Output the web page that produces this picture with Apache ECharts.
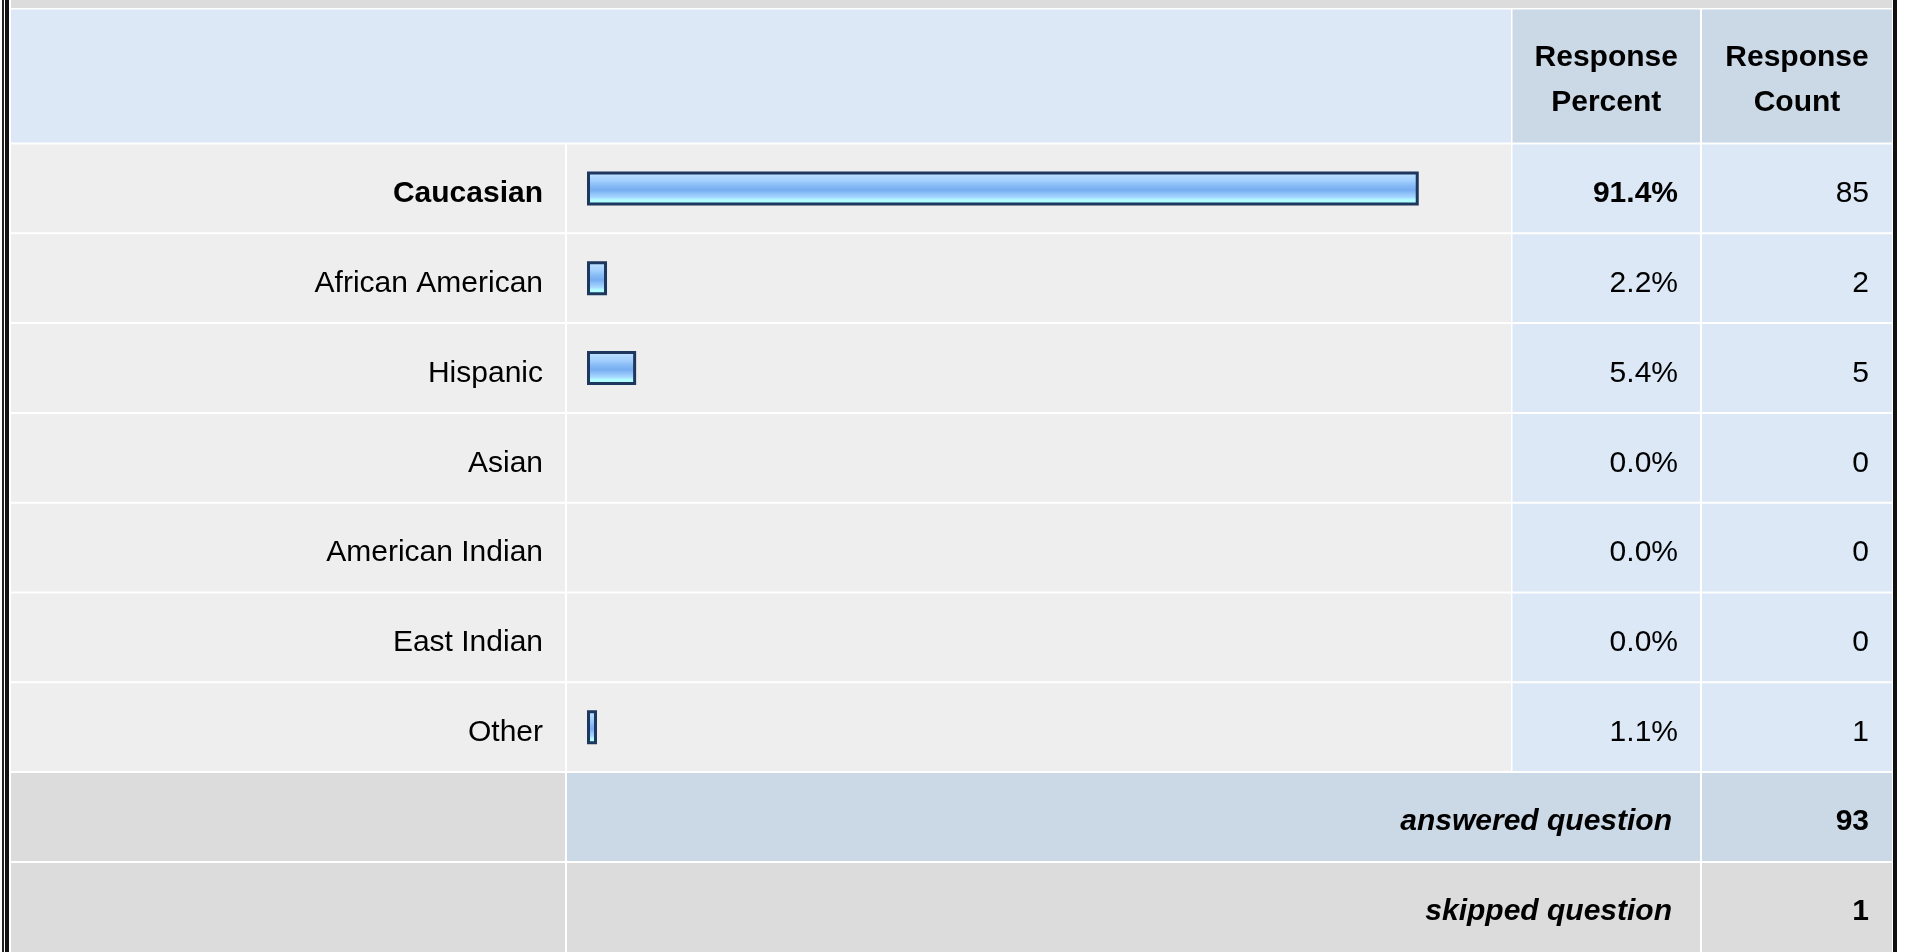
<!DOCTYPE html>
<html>
<head>
<meta charset="utf-8">
<script src="https://cdn.jsdelivr.net/npm/echarts@6/dist/echarts.min.js"></script>
<style>
  html, body { margin: 0; padding: 0; background: #fff; }
  #chart { width: 1907px; height: 952px; }
</style>
</head>
<body>
<div id="chart"></div>
<script>
// survey data
var categories = ['Caucasian', 'African American', 'Hispanic', 'Asian', 'American Indian', 'East Indian', 'Other'];
var percents = [91.4, 2.2, 5.4, 0.0, 0.0, 0.0, 1.1];
var counts = [85, 2, 5, 0, 0, 0, 1];
var headers = ['Response\nPercent', 'Response\nCount'];
var answered = 93;
var skipped = 1;

var font = 'Liberation Sans, Arial, sans-serif';

// table layout
var top0 = 143.5;
var rowH = 89.8;
var colLabel = [11, 565];
var colBar = [567, 1511];
var colPct = [1512.5, 1700];
var colCnt = [1702, 1892];
var gridLeft = 587;
var gridRight = 1497;

var chartDom = document.getElementById('chart');
var myChart = echarts.init(chartDom);

function rect(x0, x1, y0, y1, color) {
  return { type: 'rect', z: -10, silent: true, shape: { x: x0, y: y0, width: x1 - x0, height: y1 - y0 }, style: { fill: color } };
}
function txt(x, y, text, align, weight, style) {
  return {
    type: 'text', z: 10, silent: true, x: x, y: y,
    style: { text: text, fill: '#000', font: (style || 'normal') + ' ' + (weight || 'normal') + ' 30px ' + font, textAlign: align, textVerticalAlign: 'middle', lineHeight: 45 }
  };
}

var els = [];
// borders and top band
els.push(rect(2, 4, 0, 952, '#222'));
els.push(rect(5, 9, 0, 952, '#111'));
els.push(rect(1893, 1897, 0, 952, '#111'));
els.push(rect(11, 1892, 0, 8, '#dcdcdc'));
// header
els.push(rect(11, colBar[1], 9.5, 142.5, '#dce8f5'));
els.push(rect(colPct[0], colPct[1], 9.5, 142.5, '#cbd8e6'));
els.push(rect(colCnt[0], colCnt[1], 9.5, 142.5, '#cbd8e6'));
els.push(txt((colPct[0] + colPct[1]) / 2, 80, headers[0], 'center', 'bold'));
els.push(txt((colCnt[0] + colCnt[1]) / 2, 80, headers[1], 'center', 'bold'));
// data rows
categories.forEach(function (c, i) {
  var y0 = top0 + i * rowH + 1, y1 = top0 + (i + 1) * rowH - 1;
  els.push(rect(colLabel[0], colLabel[1], y0, y1, '#eeeeee'));
  els.push(rect(colBar[0], colBar[1], y0, y1, '#eeeeee'));
  els.push(rect(colPct[0], colPct[1], y0, y1, '#dce8f5'));
  els.push(rect(colCnt[0], colCnt[1], y0, y1, '#dce8f5'));
});
// answered / skipped rows
var ya = top0 + categories.length * rowH;
els.push(rect(colLabel[0], colLabel[1], ya + 1, ya + rowH - 1, '#dcdcdc'));
els.push(rect(colBar[0], colPct[1], ya + 1, ya + rowH - 1, '#cbd8e6'));
els.push(rect(colCnt[0], colCnt[1], ya + 1, ya + rowH - 1, '#cbd8e6'));
var ys = ya + rowH;
els.push(rect(colLabel[0], colLabel[1], ys + 1, 952, '#dcdcdc'));
els.push(rect(colBar[0], colPct[1], ys + 1, 952, '#dcdcdc'));
els.push(rect(colCnt[0], colCnt[1], ys + 1, 952, '#dcdcdc'));
els.push(txt(1672, ya + rowH / 2 + 5, 'answered question', 'right', 'bold', 'italic'));
els.push(txt(1869, ya + rowH / 2 + 5, String(answered), 'right', 'bold'));
els.push(txt(1672, ys + rowH / 2 + 5, 'skipped question', 'right', 'bold', 'italic'));
els.push(txt(1869, ys + rowH / 2 + 5, String(skipped), 'right', 'bold'));

var labelStyle = {
  fontSize: 30, fontFamily: font, color: '#000', padding: [11, 0, 0, 0],
  rich: { b: { fontSize: 30, fontFamily: font, fontWeight: 'bold', color: '#000' } }
};
function boldFirst(v, i) { return i === 0 ? '{b|' + v + '}' : v; }

// zero values get no outline, like the original
var barData = percents.map(function (p) {
  return p > 0 ? p : { value: p, itemStyle: { borderWidth: 0, opacity: 0 } };
});

var option = {
  animation: false,
  graphic: { elements: els },
  grid: { left: gridLeft, right: 1907 - gridRight, top: top0, height: rowH * categories.length, containLabel: false },
  xAxis: { type: 'value', min: 0, max: 100, show: false },
  yAxis: [
    {
      type: 'category', data: categories, inverse: true, z: 10,
      axisLine: { show: false }, axisTick: { show: false }, splitLine: { show: false },
      axisLabel: Object.assign({ margin: 44, formatter: boldFirst }, labelStyle)
    },
    {
      type: 'category', data: percents.map(function (p) { return p.toFixed(1) + '%'; }), inverse: true, z: 10,
      position: 'right', offset: 1678 - gridRight,
      axisLine: { show: false }, axisTick: { show: false }, splitLine: { show: false },
      axisLabel: Object.assign({ margin: 0, align: 'right', formatter: boldFirst }, labelStyle)
    },
    {
      type: 'category', data: counts.map(String), inverse: true, z: 10,
      position: 'right', offset: 1869 - gridRight,
      axisLine: { show: false }, axisTick: { show: false }, splitLine: { show: false },
      axisLabel: Object.assign({ margin: 0, align: 'right' }, labelStyle)
    }
  ],
  series: [
    {
      type: 'bar',
      data: barData,
      barWidth: 34,
      itemStyle: {
        borderColor: '#1d375e',
        borderWidth: 3,
        color: new echarts.graphic.LinearGradient(0, 0, 0, 1, [
          { offset: 0, color: '#d2eaff' },
          { offset: 0.12, color: '#b6dcff' },
          { offset: 0.28, color: '#a2cffd' },
          { offset: 0.42, color: '#86bbf5' },
          { offset: 0.55, color: '#77adf0' },
          { offset: 0.66, color: '#8fc3f9' },
          { offset: 0.76, color: '#a6d6ff' },
          { offset: 0.84, color: '#b2fdff' },
          { offset: 1, color: '#b2ffff' }
        ])
      }
    }
  ]
};

option && myChart.setOption(option);
</script>
</body>
</html>
